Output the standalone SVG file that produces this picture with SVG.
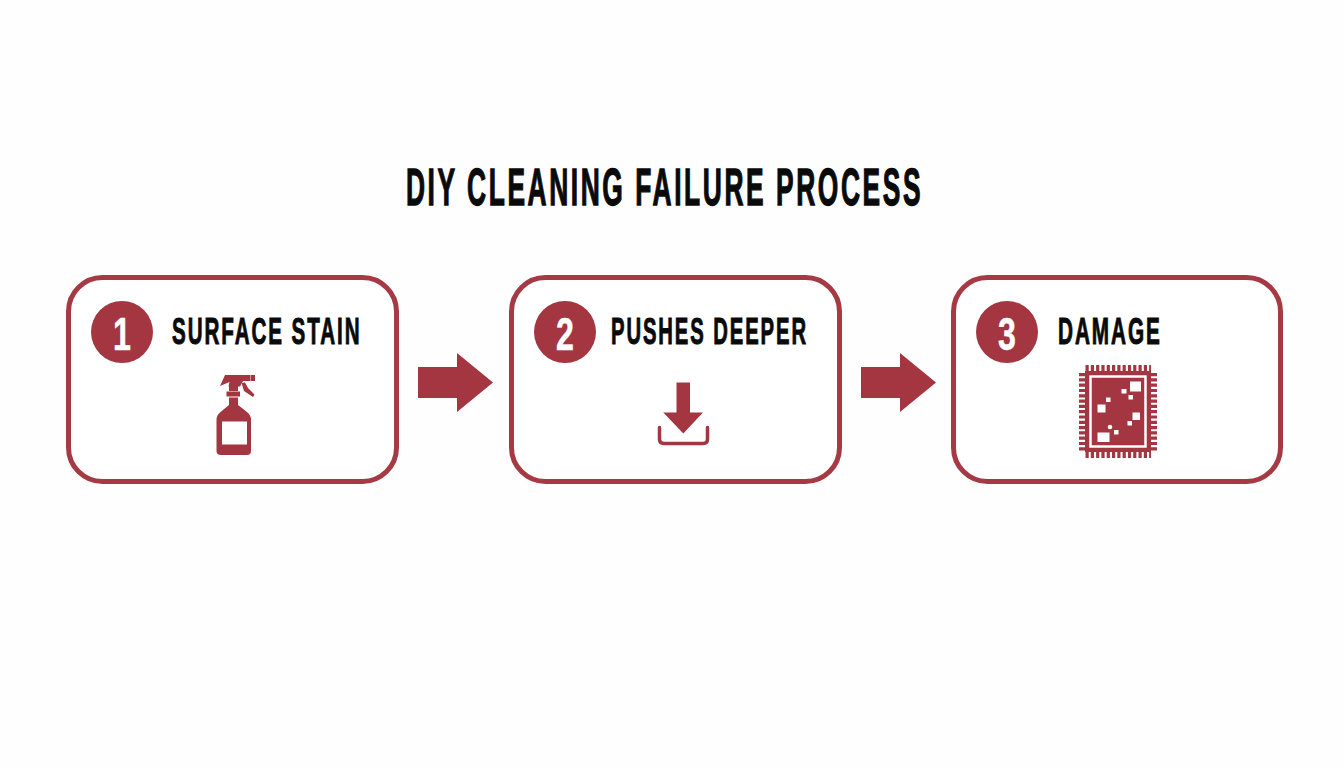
<svg xmlns="http://www.w3.org/2000/svg" width="1344" height="768" viewBox="0 0 1344 768">
<style>
text{font-family:"Liberation Sans",Arial,sans-serif;font-weight:700}
.t{fill:#0a0a0a;stroke:#0a0a0a;stroke-width:1px;font-size:37px;letter-spacing:3.500px}
.h{fill:#0a0a0a;stroke:#0a0a0a;stroke-width:1.300px;font-size:51px;letter-spacing:5px}
.n{fill:#fff;stroke:#fff;stroke-width:.5px;font-size:46px;text-anchor:middle}
.b{fill:#fff;stroke:#a53a44;stroke-width:5}
.c,.i{fill:#a33640}
.w{fill:#fff}
.f{fill:none;stroke:#a33640}
</style>
<defs><path id="arrow" d="M0 14H39V0L75 29.500 39 59V45H0Z"/></defs>
<rect width="1344" height="768" fill="#fefefe"/>
<text id="title" class="h" transform="translate(406 205) scale(.517 1)">DIY CLEANING FAILURE PROCESS</text>
<g id="connectors">
<use href="#arrow" x="418" y="353" class="c"/>
<use href="#arrow" x="861" y="353" class="c"/>
</g>
<g id="node1">
<rect class="b" x="68.500" y="277.500" width="328" height="204" rx="34"/>
<circle class="c" cx="122" cy="332" r="31"/>
<text class="n" transform="translate(122 350) scale(.7 1)">1</text>
<text class="t" transform="translate(172 344) scale(.556 1)">SURFACE STAIN</text>
<g class="i">
<path d="M225 375H250V381H243L240 386.500H228.500L229.500 382L220 386Z"/>
<rect x="250.500" y="375" width="4.500" height="6"/>
<rect x="226.500" y="391.500" width="13.500" height="5"/>
<path d="M229 386H238V391H229ZM229 397.500H238V405L247 412Q251 415 251 420V451Q251 455 247 455H221Q216.500 455 216.500 451V420Q216.500 415 220.500 412L229 405Z"/>
<path d="M241.500 383L245 382.500L248 388L254.500 394.500L253 397L244 391Z"/>
</g>
<rect class="w" x="222" y="421.500" width="25" height="23"/>
</g>
<g id="node2">
<rect class="b" x="511.500" y="277.500" width="328" height="204" rx="34"/>
<circle class="c" cx="565" cy="332" r="31"/>
<text class="n" transform="translate(565 350) scale(.7 1)">2</text>
<text class="t" transform="translate(611 344) scale(.547 1)">PUSHES DEEPER</text>
<path class="i" d="M676.500 382.500H690V412.500H703L683.300 433.500L663.300 412.500H676.500Z"/>
<path class="f" stroke-width="3.500" stroke-linecap="round" d="M659.500 427.500V439Q659.500 443.500 664 443.500H703Q707.500 443.500 707.500 439V427.500"/>
</g>
<g id="node3">
<rect class="b" x="953.500" y="277.500" width="327" height="204" rx="34"/>
<circle class="c" cx="1007" cy="332" r="31"/>
<text class="n" transform="translate(1007 350) scale(.7 1)">3</text>
<text class="t" transform="translate(1058 344) scale(.56 1)">DAMAGE</text>
<rect class="i" x="1085" y="371" width="66" height="81"/>
<path class="f" stroke-width="6" stroke-dasharray="3.200 2.100" d="M1085.500 368H1151M1085.500 455H1151"/>
<path class="f" stroke-width="6" stroke-dasharray="3.200 2.100" d="M1082 373V451M1154 373V451"/>
<rect x="1090.500" y="376.500" width="55" height="70" fill="none" stroke="#fff" stroke-width="2.500"/>
<g class="w">
<rect x="1130" y="381.500" width="11" height="10"/>
<rect x="1121.500" y="389" width="5" height="4.500"/>
<rect x="1128.500" y="395" width="4.500" height="4.500"/>
<rect x="1106" y="397.500" width="4.500" height="4.500"/>
<rect x="1097.500" y="404.500" width="8" height="8"/>
<rect x="1132.500" y="412.500" width="7.500" height="7.500"/>
<rect x="1127.500" y="421" width="4.500" height="4.500"/>
<circle cx="1110" cy="427" r="2.300"/>
<rect x="1114" y="430" width="4.500" height="4.500"/>
<rect x="1097.500" y="432.500" width="12" height="9.500"/>
</g>
</g>
</svg>
